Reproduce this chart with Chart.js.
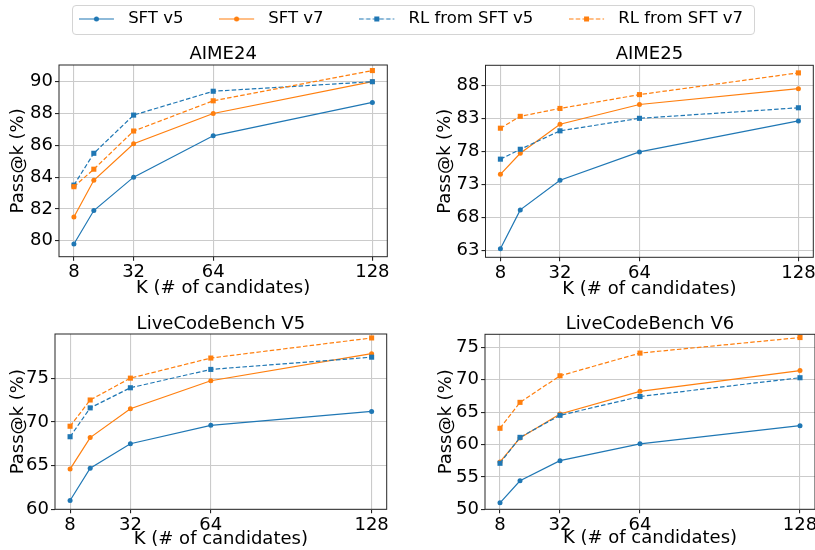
<!DOCTYPE html>
<html>
<head>
<meta charset="utf-8">
<script src="https://cdn.jsdelivr.net/npm/chart.js@4.4.0/dist/chart.umd.min.js"></script>
<style>
  html, body { margin: 0; padding: 0; background: #fff; overflow: hidden; width: 815px; height: 550px; }
  .box { position: absolute; }
  #legendFrame { position: absolute; left: 72px; top: 5px; width: 683px; height: 30px; box-sizing: border-box;
                 border: 1px solid #d4d4d4; border-radius: 4px; }
</style>
</head>
<body>
<div id="legendFrame"></div>
<script>
// DATA
const kValues = [8, 16, 32, 64, 128];
const xTickValues = [8, 32, 64, 128];
const seriesNames = ["SFT v5", "SFT v7", "RL from SFT v5", "RL from SFT v7"];
const panelTitles = ["AIME24", "AIME25", "LiveCodeBench V5", "LiveCodeBench V6"];

const aime24SftV5 = [79.8, 81.9, 84.0, 86.6, 88.7];
const aime24SftV7 = [81.5, 83.8, 86.1, 88.0, 90.0];
const aime24RlV5 = [83.5, 85.5, 87.9, 89.4, 90.0];
const aime24RlV7 = [83.4, 84.5, 86.9, 88.8, 90.7];
const aime24Ticks = [80, 82, 84, 86, 88, 90];

const aime25SftV5 = [63.2, 69.1, 73.6, 77.9, 82.6];
const aime25SftV7 = [74.5, 77.7, 82.1, 85.1, 87.5];
const aime25RlV5 = [76.8, 78.3, 81.1, 83.0, 84.6];
const aime25RlV7 = [81.5, 83.3, 84.5, 86.6, 89.9];
const aime25Ticks = [63, 68, 73, 78, 83, 88];

const lcb5SftV5 = [61.0, 64.7, 67.5, 69.6, 71.2];
const lcb5SftV7 = [64.6, 68.2, 71.5, 74.7, 77.8];
const lcb5RlV5 = [68.3, 71.6, 73.9, 76.0, 77.4];
const lcb5RlV7 = [69.5, 72.5, 75.0, 77.3, 79.6];
const lcb5Ticks = [60, 65, 70, 75];

const lcb6SftV5 = [51.0, 54.4, 57.5, 60.1, 62.9];
const lcb6SftV7 = [57.3, 61.0, 64.7, 68.2, 71.4];
const lcb6RlV5 = [57.1, 61.1, 64.5, 67.4, 70.3];
const lcb6RlV7 = [62.5, 66.5, 70.6, 74.1, 76.5];
const lcb6Ticks = [50, 55, 60, 65, 70, 75];

const panelSeries = [
    [aime24SftV5, aime24SftV7, aime24RlV5, aime24RlV7],
    [aime25SftV5, aime25SftV7, aime25RlV5, aime25RlV7],
    [lcb5SftV5, lcb5SftV7, lcb5RlV5, lcb5RlV7],
    [lcb6SftV5, lcb6SftV7, lcb6RlV5, lcb6RlV7]
];
const panelYTicks = [aime24Ticks, aime25Ticks, lcb5Ticks, lcb6Ticks];
const panelYRange = [[79, 91.05], [61.9, 91.05], [60, 80.05], [50, 77]];

// STYLE / LAYOUT
const FONT = "'DejaVu Sans', sans-serif";
const seriesColors = ["#1f77b4", "#ff7f0e", "#1f77b4", "#ff7f0e"];
const seriesDashed = [false, false, true, true];
const DASH = [4.5, 2.2];

// plot area [left, top, right, bottom] and text centre lines, in page pixels
const panelLayout = [
    { plot: [59, 65, 387.3, 256.7], titleMid: 54.5, yTitleMid: 18.8, xTitleMid: 288.8 },
    { plot: [485.5, 65.3, 813.3, 257.3], titleMid: 54.5, yTitleMid: 445.5, xTitleMid: 289.8 },
    { plot: [55, 334, 386.7, 509.3], titleMid: 324.8, yTitleMid: 18.1, xTitleMid: 539.5 },
    { plot: [485, 334.3, 815, 509.3], titleMid: 324.8, yTitleMid: 446.5, xTitleMid: 538.8 }
];

Chart.defaults.font.family = FONT;
Chart.defaults.color = "#000";

const framePlugin = {
    id: "frame",
    afterDatasetsDraw(chart) {
        const a = chart.chartArea;
        const ctx = chart.ctx;
        ctx.save();
        ctx.strokeStyle = "#262626";
        ctx.lineWidth = 1;
        ctx.strokeRect(a.left, a.top, a.right - a.left, a.bottom - a.top);
        ctx.restore();
    }
};

function addCanvas(left, top, width, height) {
    const wrap = document.createElement("div");
    wrap.className = "box";
    wrap.style.left = left + "px";
    wrap.style.top = top + "px";
    wrap.style.width = width + "px";
    wrap.style.height = height + "px";
    const canvas = document.createElement("canvas");
    canvas.width = width;
    canvas.height = height;
    canvas.style.width = width + "px";
    canvas.style.height = height + "px";
    wrap.appendChild(canvas);
    document.body.appendChild(wrap);
    return canvas;
}

function plotPanel(p) {
    const lay = panelLayout[p];
    const [pl, pt, pr, pb] = lay.plot;
    const left = Math.floor(lay.yTitleMid - 13);
    const top = Math.floor(lay.titleMid - 13);
    const right = Math.ceil(pr + 24);
    const bottom = Math.ceil(lay.xTitleMid + 13);
    const canvas = addCanvas(left, top, right - left, bottom - top);

    const datasets = seriesNames.map((name, i) => ({
        label: name,
        data: kValues.map((k, j) => ({ x: k, y: panelSeries[p][i][j] })),
        borderColor: seriesColors[i],
        backgroundColor: seriesColors[i],
        pointBackgroundColor: seriesColors[i],
        borderWidth: 1.2,
        borderDash: seriesDashed[i] ? DASH : [],
        pointStyle: seriesDashed[i] ? "rect" : "circle",
        pointRadius: seriesDashed[i] ? 3.6 : 2.5,
        pointBorderWidth: 0,
        tension: 0,
        clip: false,
        order: 3 - i
    }));

    const gridOpts = { color: "#cbcbcb", lineWidth: 1.1, tickColor: "#262626", tickLength: 4 };

    new Chart(canvas, {
        type: "line",
        data: { datasets: datasets },
        plugins: [framePlugin],
        options: {
            responsive: false,
            animation: false,
            events: [],
            layout: { padding: { left: 0, top: 0, bottom: 0, right: right - pr } },
            plugins: {
                legend: { display: false },
                tooltip: { enabled: false },
                title: {
                    display: true,
                    fullSize: false,
                    text: panelTitles[p],
                    color: "#000",
                    font: { family: FONT, size: 18, weight: "normal", lineHeight: 1 },
                    padding: { top: lay.titleMid - top - 9, bottom: pt - lay.titleMid - 9 }
                }
            },
            scales: {
                x: {
                    type: "linear",
                    min: 2,
                    max: 134,
                    afterBuildTicks: s => { s.ticks = xTickValues.map(v => ({ value: v })); },
                    afterFit: s => { s.height = bottom - pb; },
                    grid: gridOpts,
                    border: { display: false },
                    ticks: { color: "#000", font: { size: 18 }, padding: 1, maxRotation: 0, autoSkip: false,
                             callback: v => String(v) },
                    title: {
                        display: true,
                        text: "K (# of candidates)",
                        color: "#000",
                        font: { size: 18, lineHeight: 1 },
                        padding: { top: 0, bottom: bottom - lay.xTitleMid - 9 }
                    }
                },
                y: {
                    type: "linear",
                    min: panelYRange[p][0],
                    max: panelYRange[p][1],
                    afterBuildTicks: s => { s.ticks = panelYTicks[p].map(v => ({ value: v })); },
                    afterFit: s => { s.width = pl - left; },
                    grid: gridOpts,
                    border: { display: false },
                    ticks: { color: "#000", font: { size: 18 }, padding: 2, autoSkip: false,
                             callback: v => String(v) },
                    title: {
                        display: true,
                        text: "Pass@k (%)",
                        color: "#000",
                        font: { size: 18, lineHeight: 1 },
                        padding: { top: lay.yTitleMid - left - 9, bottom: 0 }
                    }
                }
            }
        }
    });
}

// legend handle: short line with a marker in the middle
function legendHandle(i) {
    const c = document.createElement("canvas");
    c.width = 41;
    c.height = 12;
    const ctx = c.getContext("2d");
    ctx.strokeStyle = seriesColors[i];
    ctx.fillStyle = seriesColors[i];
    ctx.lineWidth = 1.2;
    ctx.setLineDash(seriesDashed[i] ? DASH : []);
    ctx.beginPath();
    ctx.moveTo(0, 6);
    ctx.lineTo(35, 6);
    ctx.stroke();
    if (seriesDashed[i]) {
        ctx.fillRect(17.5 - 2.5, 3.5, 5, 5);
    } else {
        ctx.beginPath();
        ctx.arc(17.5, 6, 2.5, 0, Math.PI * 2);
        ctx.fill();
    }
    return c;
}

function plotLegend() {
    // tall canvas so the legend box (which clips its items) is not squeezed
    const canvas = addCanvas(11, -25, 800, 220);
    new Chart(canvas, {
        type: "line",
        data: { datasets: seriesNames.map(n => ({ label: n, data: [] })) },
        options: {
            responsive: false,
            animation: false,
            events: [],
            layout: { padding: 0 },
            scales: { x: { display: false }, y: { display: false } },
            plugins: {
                tooltip: { enabled: false },
                legend: {
                    display: true,
                    position: "top",
                    align: "center",
                    labels: {
                        usePointStyle: true,
                        pointStyleWidth: 41,
                        padding: 35.7,
                        color: "#000",
                        font: { family: FONT, size: 16.5 },
                        generateLabels: () => seriesNames.map((n, i) => ({
                            text: n,
                            pointStyle: legendHandle(i),
                            fillStyle: "rgba(0,0,0,0)",
                            strokeStyle: "rgba(0,0,0,0)",
                            lineWidth: 0,
                            hidden: false,
                            datasetIndex: i,
                            fontColor: "#000"
                        }))
                    }
                }
            }
        }
    });
}

for (let p = 0; p < 4; p++) {
    plotPanel(p);
}
plotLegend();
</script>
</body>
</html>
